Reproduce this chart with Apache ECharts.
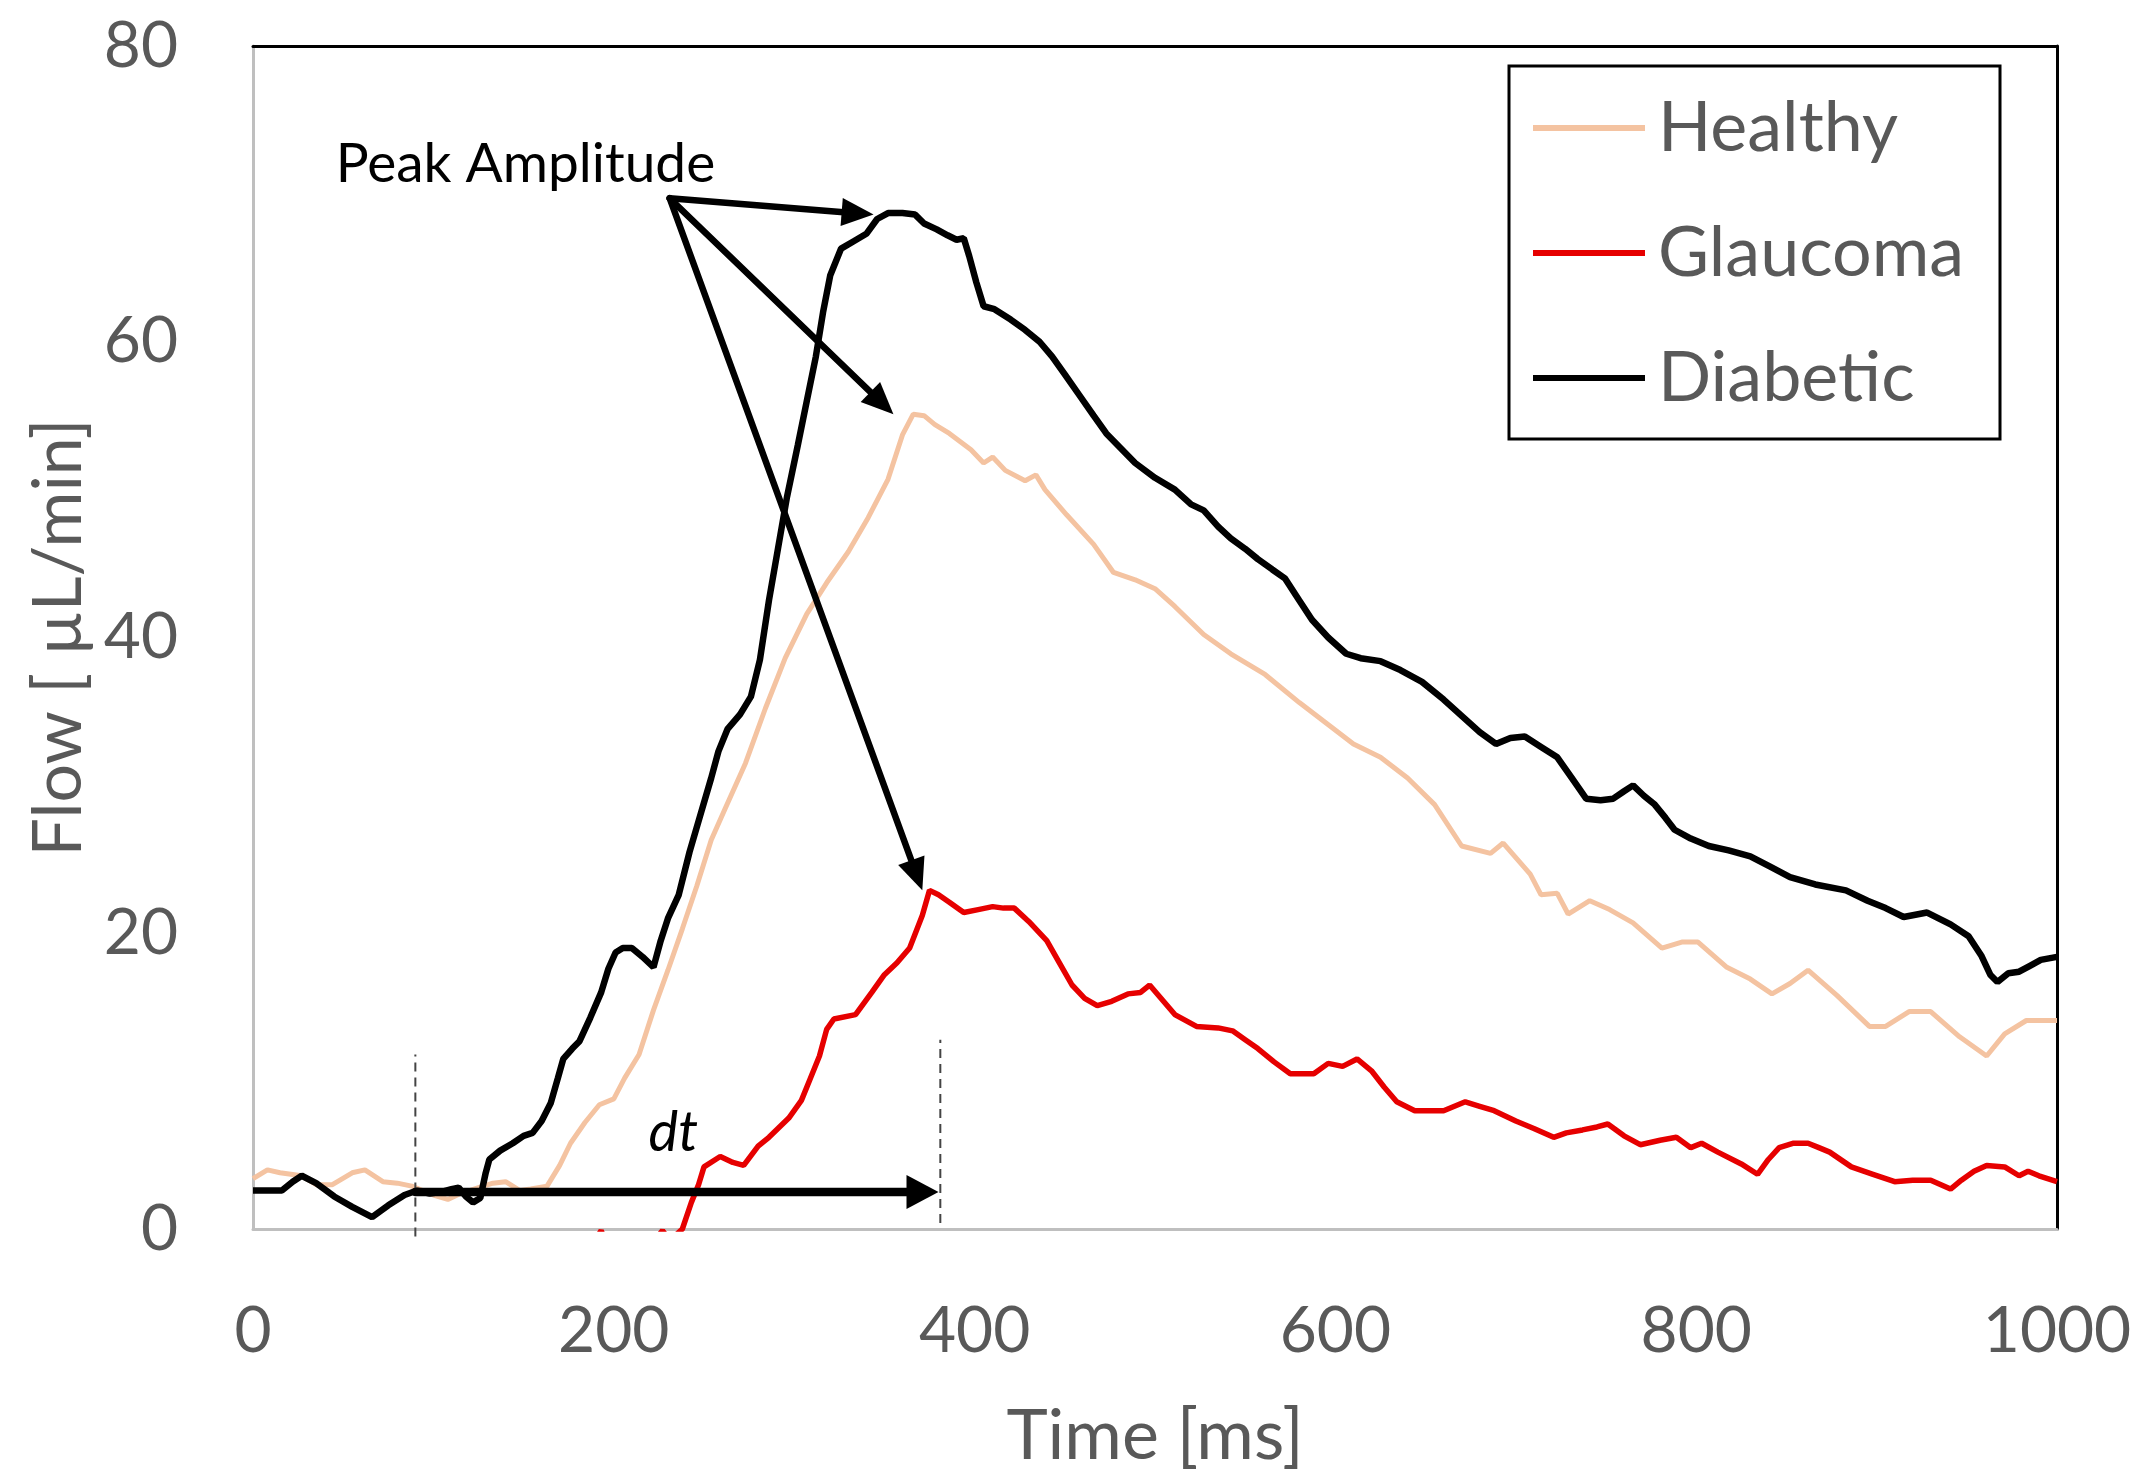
<!DOCTYPE html>
<html><head><meta charset="utf-8">
<script src="https://cdn.jsdelivr.net/npm/echarts@6/dist/echarts.min.js"></script>
<style>html,body{margin:0;padding:0;background:#fff}#c{width:2141px;height:1482px}</style>
</head><body><div id="c"></div>
<script>
// ---- data ----
const seriesNames = ['Healthy', 'Glaucoma', 'Diabetic'];
const xTicks = [0, 200, 400, 600, 800, 1000];
const yTicks = [0, 20, 40, 60, 80];
const xTitle = 'Time [ms]';
const yTitle = 'Flow [ µL/min]';

const healthy = [[0,3.4],[8,4.0],[15,3.8],[27,3.6],[35,3.0],[44,3.0],[55,3.8],[62,4.0],[72,3.2],[80,3.1],[88,2.9],[100,2.3],[108,2.0],[115,2.4],[125,2.8],[133,3.1],[140,3.2],[148,2.6],[154,2.7],[163,2.9],[170,4.3],[176,5.8],[184,7.2],[192,8.4],[200,8.8],[206,10.2],[214,11.8],[222,14.8],[230,17.5],[238,20.3],[246,23.2],[254,26.3],[262,28.5],[273,31.5],[284,35.2],[295,38.6],[307,41.6],[318,43.7],[330,45.8],[341,48.1],[352,50.7],[360,53.7],[366,55.1],[372,55.0],[378,54.4],[386,53.8],[398,52.7],[405,51.8],[410,52.2],[417,51.3],[428,50.6],[434,51.0],[439,50.0],[451,48.3],[466,46.3],[477,44.4],[489,43.9],[500,43.3],[511,42.1],[527,40.2],[542,38.9],[561,37.5],[580,35.6],[595,34.2],[610,32.8],[625,31.9],[640,30.5],[655,28.7],[670,25.9],[686,25.4],[693,26.1],[708,24.0],[714,22.6],[723,22.7],[729,21.3],[741,22.2],[752,21.6],[765,20.7],[781,19.0],[792,19.4],[801,19.4],[817,17.7],[830,16.9],[842,15.9],[852,16.6],[862,17.5],[878,15.8],[896,13.7],[905,13.7],[918,14.7],[930,14.7],[946,13.0],[961,11.7],[971,13.2],[983,14.1],[1000,14.1]];

const glaucoma = [[180,-3],[186,-1.5],[193,-0.1],[198,-1.8],[210,-3],[220,-1.2],[227,-0.1],[231,-0.8],[238,0],[243,1.8],[247,3.0],[250,4.2],[259,4.9],[266,4.5],[272,4.3],[280,5.6],[286,6.2],[297,7.5],[304,8.7],[309,10.2],[314,11.7],[318,13.5],[322,14.2],[334,14.5],[343,16.0],[350,17.2],[357,18.0],[364,19.0],[371,21.2],[375,22.9],[380,22.6],[386,22.1],[394,21.4],[402,21.6],[410,21.8],[416,21.7],[422,21.7],[430,20.8],[440,19.5],[447,18.0],[454,16.5],[461,15.6],[468,15.1],[476,15.4],[485,15.9],[492,16.0],[497,16.5],[504,15.5],[511,14.5],[523,13.7],[535,13.6],[543,13.4],[550,12.8],[557,12.2],[566,11.3],[575,10.5],[588,10.5],[596,11.2],[604,11.0],[612,11.5],[620,10.7],[627,9.6],[634,8.6],[644,8.0],[660,8.0],[672,8.6],[680,8.3],[688,8.0],[700,7.3],[710,6.8],[721,6.2],[728,6.5],[737,6.7],[745,6.9],[751,7.1],[760,6.3],[769,5.7],[780,6.0],[789,6.2],[797,5.5],[803,5.8],[812,5.2],[825,4.4],[834,3.7],[840,4.7],[846,5.5],[854,5.8],[862,5.8],[868,5.5],[874,5.2],[886,4.2],[898,3.7],[910,3.2],[920,3.3],[930,3.3],[941,2.7],[947,3.3],[954,3.9],[961,4.3],[971,4.2],[979,3.6],[984,3.9],[990,3.6],[1000,3.2]];

const diabetic = [[0,2.6],[8,2.6],[16,2.6],[22,3.2],[27,3.6],[35,3.1],[45,2.2],[55,1.5],[66,0.8],[75,1.6],[84,2.3],[91,2.6],[98,2.4],[104,2.5],[110,2.7],[114,2.8],[118,2.2],[122,1.8],[126,2.1],[129,3.8],[131,4.7],[137,5.3],[144,5.8],[150,6.3],[155,6.5],[160,7.3],[165,8.5],[169,10.2],[172,11.5],[177,12.2],[181,12.7],[187,14.3],[193,16.0],[197,17.6],[201,18.7],[205,19.0],[210,19.0],[216,18.4],[222,17.7],[226,19.5],[230,21.0],[236,22.6],[242,25.5],[248,28.0],[254,30.5],[258,32.3],[263,33.8],[270,34.8],[276,36.0],[281,38.5],[286,42.5],[291,46.0],[296,49.5],[302,53.0],[307,56.0],[312,59.0],[316,62.0],[320,64.5],[326,66.3],[333,66.8],[340,67.3],[346,68.3],[352,68.7],[360,68.7],[367,68.6],[372,68.0],[379,67.6],[385,67.2],[390,66.9],[394,67.0],[397,65.8],[401,64.0],[405,62.4],[411,62.2],[420,61.5],[428,60.8],[436,60.0],[443,59.0],[450,57.8],[458,56.4],[466,55.0],[473,53.8],[481,52.8],[489,51.8],[500,50.8],[511,50.0],[520,49.0],[527,48.6],[535,47.5],[542,46.7],[550,46.0],[557,45.3],[565,44.6],[572,44.0],[580,42.5],[587,41.2],[596,40.0],[606,38.9],[614,38.6],[625,38.4],[636,37.8],[648,37.0],[660,35.8],[670,34.7],[680,33.6],[689,32.8],[697,33.2],[705,33.3],[714,32.6],[723,31.9],[731,30.5],[739,29.1],[747,29.0],[754,29.1],[760,29.6],[765,30.0],[771,29.3],[777,28.7],[783,27.8],[788,27.0],[797,26.4],[807,25.9],[818,25.6],[830,25.2],[841,24.5],[852,23.8],[866,23.3],[883,22.9],[895,22.2],[905,21.7],[915,21.1],[928,21.4],[941,20.6],[951,19.8],[958,18.5],[963,17.2],[967,16.7],[973,17.3],[979,17.4],[985,17.8],[991,18.2],[1000,18.4]];

// annotations (data coordinates)
const peakLabel = 'Peak Amplitude';
const peakLabelPos = [151, 72.0];
const peakOrigin = [231, 69.7];
const peakTargets = [[344, 68.6], [355, 55.1], [371, 22.9]];
const dtLabel = 'dt';
const dtLabelPos = [233, 6.5];
const dtArrow = [[90, 2.5], [380, 2.5]];
const dtMarkers = [[90, -0.5, 11.8], [381, 0.4, 12.8]];

// ---- chart ----
const FONT = 'Lato';
const GRAY = '#595959';
const chart = echarts.init(document.getElementById('c'), null, {renderer: 'canvas'});

function arrowRender(shaftW, headL, headW) {
  return function (params, api) {
    const a = api.coord([api.value(0), api.value(1)]);
    const b = api.coord([api.value(2), api.value(3)]);
    const dx = b[0] - a[0], dy = b[1] - a[1];
    const len = Math.hypot(dx, dy);
    const ux = dx / len, uy = dy / len;
    const bx = b[0] - ux * headL, by = b[1] - uy * headL;
    const px = -uy, py = ux;
    return {
      type: 'group',
      children: [
        {type: 'line', shape: {x1: a[0], y1: a[1], x2: bx + ux * 2, y2: by + uy * 2},
         style: {stroke: '#000', lineWidth: shaftW, lineCap: 'round'}},
        {type: 'polygon', shape: {points: [[b[0], b[1]], [bx + px * headW / 2, by + py * headW / 2], [bx - px * headW / 2, by - py * headW / 2]]},
         style: {fill: '#000'}}
      ]
    };
  };
}

const option = {
  animation: false,
  backgroundColor: '#fff',
  grid: {left: 253, right: 84, top: 46, bottom: 253, containLabel: false},
  legend: {
    data: seriesNames,
    orient: 'vertical',
    left: 1509, top: 66,
    icon: 'rect', itemWidth: 112, itemHeight: 6, itemGap: 55,
    padding: [27, 36, 26, 24],
    borderColor: '#000', borderWidth: 3, backgroundColor: '#fff',
    textStyle: {fontFamily: FONT, fontSize: 70, lineHeight: 68, color: GRAY, padding: [0, 0, 0, 8]}
  },
  xAxis: [{
    type: 'value', min: xTicks[0], max: xTicks[xTicks.length - 1], interval: xTicks[1] - xTicks[0],
    name: xTitle, nameLocation: 'middle', nameGap: 172,
    nameTextStyle: {fontFamily: FONT, fontSize: 70, color: GRAY},
    axisLine: {show: true, onZero: false, lineStyle: {color: '#bfbfbf', width: 3}},
    axisTick: {show: false}, splitLine: {show: false},
    axisLabel: {fontFamily: FONT, fontSize: 64, color: GRAY, margin: 70, formatter: v => String(v)}
  }, {
    type: 'value', position: 'top', min: xTicks[0], max: xTicks[xTicks.length - 1],
    axisLine: {show: true, onZero: false, lineStyle: {color: '#000', width: 3}},
    axisTick: {show: false}, axisLabel: {show: false}, splitLine: {show: false}
  }],
  yAxis: [{
    type: 'value', min: yTicks[0], max: yTicks[yTicks.length - 1], interval: yTicks[1] - yTicks[0],
    name: yTitle, nameLocation: 'middle', nameGap: 160, nameRotate: 90,
    nameTextStyle: {fontFamily: FONT, fontSize: 68, color: GRAY},
    axisLine: {show: true, onZero: false, lineStyle: {color: '#bfbfbf', width: 3}},
    axisTick: {show: false}, splitLine: {show: false},
    axisLabel: {fontFamily: FONT, fontSize: 64, color: GRAY, margin: 75, formatter: v => String(v)}
  }, {
    type: 'value', position: 'right', min: yTicks[0], max: yTicks[yTicks.length - 1],
    axisLine: {show: true, onZero: false, lineStyle: {color: '#000', width: 3}},
    axisTick: {show: false}, axisLabel: {show: false}, splitLine: {show: false}
  }],
  series: [
    {name: 'Healthy', type: 'line', data: healthy, showSymbol: false, symbol: 'none',
     lineStyle: {color: '#f4c3a1', width: 5}, itemStyle: {color: '#f4c3a1'}, z: 2},
    {name: 'Glaucoma', type: 'line', data: glaucoma, showSymbol: false, symbol: 'none',
     lineStyle: {color: '#e60000', width: 5.5}, itemStyle: {color: '#e60000'}, z: 3},
    {name: 'Diabetic', type: 'line', data: diabetic, showSymbol: false, symbol: 'none',
     lineStyle: {color: '#000', width: 6.5}, itemStyle: {color: '#000'}, z: 4},
    {type: 'custom', silent: true, z: 10, clip: false,
     data: dtMarkers,
     encode: {x: 0, y: [1, 2]},
     renderItem: function (params, api) {
       const a = api.coord([api.value(0), api.value(1)]);
       const b = api.coord([api.value(0), api.value(2)]);
       return {type: 'line', shape: {x1: a[0], y1: a[1], x2: b[0], y2: b[1]},
               style: {stroke: '#444', lineWidth: 2, lineDash: [9, 6]}};
     }},
    {type: 'custom', silent: true, z: 11, clip: false,
     data: peakTargets.map(p => [peakOrigin[0], peakOrigin[1], p[0], p[1]]),
     encode: {x: [0, 2], y: [1, 3]},
     renderItem: arrowRender(6.5, 32, 28)},
    {type: 'custom', silent: true, z: 11, clip: false,
     data: [[dtArrow[0][0], dtArrow[0][1], dtArrow[1][0], dtArrow[1][1]]],
     encode: {x: [0, 2], y: [1, 3]},
     renderItem: arrowRender(8.5, 32, 34)},
    {type: 'custom', silent: true, z: 12, clip: false,
     data: [[peakLabelPos[0], peakLabelPos[1], peakLabel], [dtLabelPos[0], dtLabelPos[1], dtLabel]],
     encode: {x: 0, y: 1},
     renderItem: function (params, api) {
       const p = api.coord([api.value(0), api.value(1)]);
       const isDt = params.dataIndex === 1;
       return {type: 'text', x: p[0], y: p[1],
               style: {text: api.value(2), fontFamily: FONT, fontSize: isDt ? 56 : 55,
                       fontStyle: isDt ? 'italic' : 'normal', fill: '#000',
                       align: 'center', verticalAlign: 'middle'}};
     }}
  ]
};
chart.setOption(option);
</script>
</body></html>
